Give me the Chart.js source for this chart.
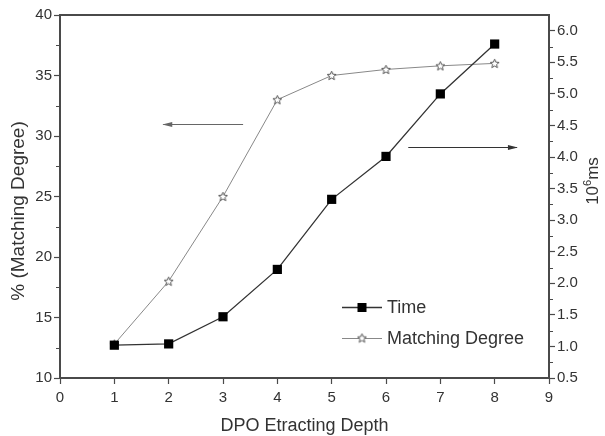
<!DOCTYPE html>
<html><head><meta charset="utf-8">
<script src="https://cdn.jsdelivr.net/npm/chart.js@4.4.0/dist/chart.umd.min.js"></script>
<style>html,body{margin:0;padding:0;background:#fff}#wrap{width:605px;height:436px}</style>
</head><body><div id="wrap"><canvas id="c" width="605" height="436"></canvas></div>
<script>
const depths = [1, 2, 3, 4, 5, 6, 7, 8];
const timeValues = [1.02, 1.04, 1.47, 2.22, 3.33, 4.01, 5.0, 5.79];
const matchingValues = [12.8, 18.0, 25.0, 33.0, 35.0, 35.5, 35.8, 36.0];
const seriesNames = ['Time', 'Matching Degree'];
const xTitle = 'DPO Etracting Depth';
const yLeftTitle = '% (Matching Degree)';
const yRightTitleParts = ['10', '6', 'ms'];

const FONT = '"Liberation Sans", Arial, sans-serif';

function starCanvas(size, stroke) {
  const c = document.createElement('canvas');
  c.width = size; c.height = size;
  const g = c.getContext('2d');
  const cx = size / 2, cy = size / 2 + 0.4, R = size / 2 - 0.8, r = R * 0.45;
  g.beginPath();
  for (let i = 0; i < 10; i++) {
    const a = -Math.PI / 2 + i * Math.PI / 5;
    const rr = i % 2 === 0 ? R : r;
    const x = cx + rr * Math.cos(a), y = cy + rr * Math.sin(a);
    i === 0 ? g.moveTo(x, y) : g.lineTo(x, y);
  }
  g.closePath();
  g.fillStyle = '#fff'; g.fill();
  g.strokeStyle = stroke; g.lineWidth = 1; g.stroke();
  return c;
}
const star = starCanvas(11, '#555');

const axisColor = '#4a4a4a';
const textColor = '#333';

const extras = {
  id: 'extras',
  afterDraw(chart) {
    const ctx = chart.ctx, a = chart.chartArea;
    const x = chart.scales.x, yl = chart.scales.y, yr = chart.scales.y2;
    ctx.save();
    // top border
    ctx.strokeStyle = axisColor; ctx.lineWidth = 2;
    ctx.beginPath(); ctx.moveTo(a.left - 1, a.top); ctx.lineTo(a.right + 1, a.top); ctx.stroke();
    // minor ticks
    ctx.lineWidth = 1;
    for (let v = 12.5; v < 40; v += 5) {
      const p = Math.round(yl.getPixelForValue(v)) + 0.5;
      ctx.beginPath(); ctx.moveTo(a.left - 4, p); ctx.lineTo(a.left, p); ctx.stroke();
    }
    for (let v = 0.75; v < 6.25; v += 0.5) {
      const p = Math.round(yr.getPixelForValue(v)) + 0.5;
      ctx.beginPath(); ctx.moveTo(a.right, p); ctx.lineTo(a.right + 4, p); ctx.stroke();
    }
    // arrows
    function arrow(x1, x2, y, color) {
      ctx.strokeStyle = color; ctx.fillStyle = color; ctx.lineWidth = 1;
      ctx.beginPath(); ctx.moveTo(x1, y); ctx.lineTo(x2, y); ctx.stroke();
      const d = x2 > x1 ? 1 : -1;
      ctx.beginPath(); ctx.moveTo(x2 + d * 1, y); ctx.lineTo(x2 - d * 9, y - 2.5); ctx.lineTo(x2 - d * 9, y + 2.5); ctx.closePath(); ctx.fill();
    }
    arrow(x.getPixelForValue(3.37), x.getPixelForValue(1.9), Math.round(yl.getPixelForValue(31.0)) + 0.5, '#666');
    arrow(x.getPixelForValue(6.41), x.getPixelForValue(8.41), Math.round(yr.getPixelForValue(4.16)) + 0.5, '#333');
    // legend
    const lx = 342, ly1 = 307.5, ly2 = 338.5;
    ctx.lineWidth = 1.3;
    ctx.strokeStyle = '#333';
    ctx.beginPath(); ctx.moveTo(lx, ly1); ctx.lineTo(lx + 40, ly1); ctx.stroke();
    ctx.fillStyle = '#000';
    ctx.fillRect(lx + 20 - 4.5, ly1 - 4.5, 9, 9);
    ctx.lineWidth = 1;
    ctx.strokeStyle = '#888';
    ctx.beginPath(); ctx.moveTo(lx, ly2); ctx.lineTo(lx + 40, ly2); ctx.stroke();
    ctx.drawImage(star, lx + 20 - 5.5, ly2 - 6);
    ctx.fillStyle = textColor;
    ctx.font = '18px ' + FONT;
    ctx.textBaseline = 'middle';
    ctx.fillText(seriesNames[0], lx + 45, ly1 + 1);
    ctx.fillText(seriesNames[1], lx + 45, ly2 + 1);
    // bottom title
    ctx.textAlign = 'center';
    ctx.textBaseline = 'alphabetic';
    ctx.fillText(xTitle, (a.left + a.right) / 2, 431);
    // left title
    ctx.save();
    ctx.translate(24, 211);
    ctx.rotate(-Math.PI / 2);
    ctx.font = '19px ' + FONT;
    ctx.textAlign = 'center';
    ctx.fillText(yLeftTitle, 0, 0);
    ctx.restore();
    // right title with superscript
    ctx.save();
    ctx.translate(598, 181);
    ctx.rotate(-Math.PI / 2);
    ctx.textAlign = 'left';
    const big = '17px ' + FONT, small = '11px ' + FONT;
    ctx.font = big; const w0 = ctx.measureText(yRightTitleParts[0]).width;
    const w2 = ctx.measureText(yRightTitleParts[2]).width;
    ctx.font = small; const w1 = ctx.measureText(yRightTitleParts[1]).width;
    let sx = -(w0 + w1 + w2) / 2;
    ctx.font = big; ctx.fillText(yRightTitleParts[0], sx, 0); sx += w0;
    ctx.font = small; ctx.fillText(yRightTitleParts[1], sx, -7); sx += w1;
    ctx.font = big; ctx.fillText(yRightTitleParts[2], sx, 0);
    ctx.restore();
    ctx.restore();
  }
};

const tickFont = { size: 15, family: FONT };

new Chart(document.getElementById('c'), {
  type: 'line',
  data: {
    datasets: [
      {
        label: seriesNames[0],
        data: depths.map((d, i) => ({ x: d, y: timeValues[i] })),
        yAxisID: 'y2',
        borderColor: '#333', borderWidth: 1.3,
        pointStyle: 'rect', pointRadius: 6.5, pointBackgroundColor: '#000', pointBorderColor: '#000', pointBorderWidth: 0,
        tension: 0, order: 1
      },
      {
        label: seriesNames[1],
        data: depths.map((d, i) => ({ x: d, y: matchingValues[i] })),
        yAxisID: 'y',
        borderColor: '#888', borderWidth: 1,
        pointStyle: star, pointRadius: 6,
        tension: 0, order: 2
      }
    ]
  },
  options: {
    responsive: false, animation: false, devicePixelRatio: 1,
    layout: { padding: { top: 15, right: 0, left: 0, bottom: 0 } },
    plugins: { legend: { display: false }, tooltip: { enabled: false } },
    scales: {
      x: {
        type: 'linear', min: 0, max: 9,
        ticks: { stepSize: 1, color: textColor, font: tickFont, padding: 5 },
        grid: { drawOnChartArea: false, drawTicks: true, tickLength: 6, tickColor: axisColor, tickWidth: 1.2 },
        border: { color: axisColor, width: 2 },
        afterFit: s => { s.height = 58; }
      },
      y: {
        type: 'linear', position: 'left', min: 10, max: 40,
        ticks: { stepSize: 5, color: textColor, font: tickFont, padding: 2 },
        grid: { drawOnChartArea: false, drawTicks: true, tickLength: 6, tickColor: axisColor, tickWidth: 1.2 },
        border: { color: axisColor, width: 2 },
        afterFit: s => { s.width = 60; }
      },
      y2: {
        type: 'linear', position: 'right', min: 0.5, max: 6.25,
        ticks: { stepSize: 0.5, includeBounds: false, color: textColor, font: tickFont, padding: 2, callback: v => v.toFixed(1) },
        grid: { drawOnChartArea: false, drawTicks: true, tickLength: 6, tickColor: axisColor, tickWidth: 1.2 },
        border: { color: axisColor, width: 2 },
        afterFit: s => { s.width = 56; }
      }
    }
  },
  plugins: [extras]
});
</script>
</body></html>
